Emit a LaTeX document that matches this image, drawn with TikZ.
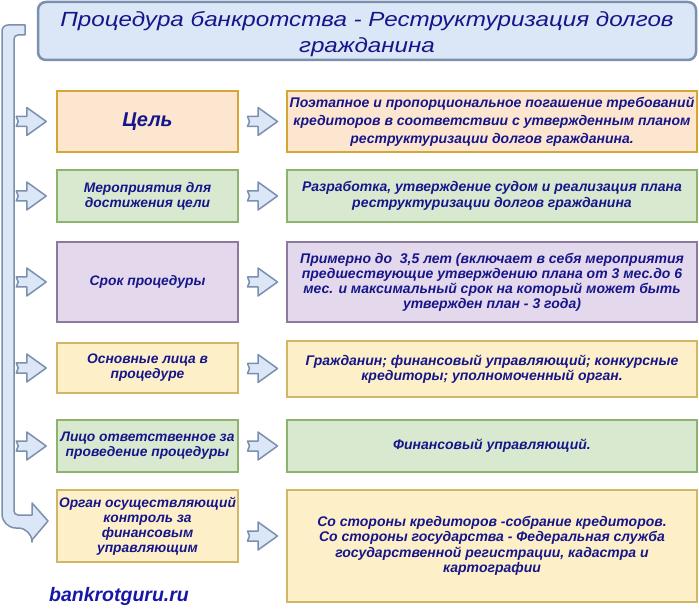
\documentclass[tikz,border=0pt]{standalone}
\usepackage{fontspec}
\setmainfont{Liberation Sans}
\newfontfamily\titlefont[FakeStretch=1.18]{Liberation Sans}
\usetikzlibrary{calc}
\definecolor{navy}{HTML}{16168A}
\definecolor{linkblue}{HTML}{1818A8}
\definecolor{peachfill}{HTML}{FDE6CF}
\definecolor{peachline}{HTML}{D4A636}
\definecolor{greenfill}{HTML}{D8E9D0}
\definecolor{greenline}{HTML}{8DB36E}
\definecolor{lilacfill}{HTML}{E4D8EC}
\definecolor{lilacline}{HTML}{8B7A9E}
\definecolor{sandfill}{HTML}{FDEFC8}
\definecolor{sandline}{HTML}{D2B667}
\definecolor{skyfill}{HTML}{DBE6F6}
\definecolor{skyline}{HTML}{7B8FAE}
\begin{document}
\begin{tikzpicture}[x=1pt,y=-1pt,
    box/.style={draw,line width=2.5pt,align=center,inner sep=2pt,text=navy,
      font=\fontsize{14}{15.5}\selectfont\bfseries\itshape},
    lbox/.style={box,minimum width=181,font=\fontsize{13.8}{15}\selectfont\bfseries\itshape},
    rbox/.style={box,minimum width=410},
    peach/.style={fill=peachfill,draw=peachline},
    green/.style={fill=greenfill,draw=greenline},
    lilac/.style={fill=lilacfill,draw=lilacline},
    sand/.style={fill=sandfill,draw=sandline},
    pics/notch/.style={code={
      \draw[fill=skyfill,draw=skyline,line width=1.5pt,line join=round]
        (-15,-5) -- (-4.5,-5) -- (-4.5,-14) -- (15,0) -- (-4.5,14)
        -- (-4.5,5) -- (-15,5) -- (-13,0) -- cycle;}}]
    \useasboundingbox (0,0) rectangle (699,612);
    % title
    \node[draw=skyline,fill=skyfill,line width=2.5pt,rounded corners=8,
      minimum width=658,minimum height=58,text=navy] (title) at (367,31) {};
    \node[align=center,text=navy,font=\titlefont\fontsize{20.5}{26}\selectfont\itshape]
      at ($(title)+(0,3)$)
      {Процедура банкротства - Реструктуризация долгов\\гражданина};
    % left column
    \node[lbox,peach,minimum height=61,font=\fontsize{20}{24}\selectfont\bfseries\itshape]
      (goal) at (147.5,121.5) {Цель};
    \node[lbox,green,minimum height=52] (events) at (147.5,196) {Мероприятия для\\достижения цели};
    \node[lbox,lilac,minimum height=80] (term) at (147.5,282) {Срок процедуры};
    \node[lbox,sand,minimum height=50] (persons) at (147.5,368) {Основные лица в\\процедуре};
    \node[lbox,green,minimum height=52] (manager) at (147.5,446) {Лицо ответственное за\\проведение процедуры};
    \node[lbox,sand,minimum height=72] (control) at (147.5,526) {Орган осуществляющий\\контроль за\\финансовым\\управляющим};
    % right column
    \node[rbox,peach,minimum height=61,font=\fontsize{14}{18}\selectfont\bfseries\itshape]
      (goalR) at (492,121.5)
      {Поэтапное и пропорциональное погашение требований\\кредиторов в соответствии с утвержденным планом\\реструктуризации долгов гражданина.};
    \node[rbox,green,minimum height=52] (eventsR) at (492,196)
      {Разработка, утверждение судом и реализация плана\\реструктуризации долгов гражданина};
    \node[rbox,lilac,minimum height=80,font=\fontsize{14}{15}\selectfont\bfseries\itshape]
      (termR) at (492,282)
      {Примерно до \ 3,5 лет (включает в себя мероприятия\\предшествующие утверждению плана от 3 мес.до 6\\мес. и максимальный срок на который может быть\\утвержден план - 3 года)};
    \node[rbox,sand,minimum height=56] (personsR) at (492,369)
      {Гражданин; финансовый управляющий; конкурсные\\кредиторы; уполномоченный орган.};
    \node[rbox,green,minimum height=52] (managerR) at (492,446)
      {Финансовый управляющий.};
    \node[rbox,sand,minimum height=112] (controlR) at (492,546)
      {Со стороны кредиторов -собрание кредиторов.\\Со стороны государства - Федеральная служба\\государственной регистрации, кадастра и\\картографии};
    % bracket
    \draw[fill=skyfill,draw=skyline,line width=1.5pt,line join=round]
      (25,25) [rounded corners=6] -- (2,25) [rounded corners=14] -- (2,528)
      -- (32,528) [sharp corners] -- (32,540) -- (48,521) -- (32,503) -- (32,515)
      [rounded corners=4] -- (14,515) -- (14,35) [sharp corners] -- (25,35) -- cycle;
    % arrows
    \foreach \n in {goal,events,term,persons,manager}
      \pic at ($(\n.west)+(-24.5,0)$) {notch};
    \foreach \n in {goal,events,term,persons,manager,control}
      \pic at ($(\n.east)!.5!(\n R.west)$) {notch};
    \node[text=linkblue,font=\fontsize{19.5}{22}\selectfont\bfseries\itshape]
      (site) at (119,596) {bankrotguru.ru};
\end{tikzpicture}
\end{document}
